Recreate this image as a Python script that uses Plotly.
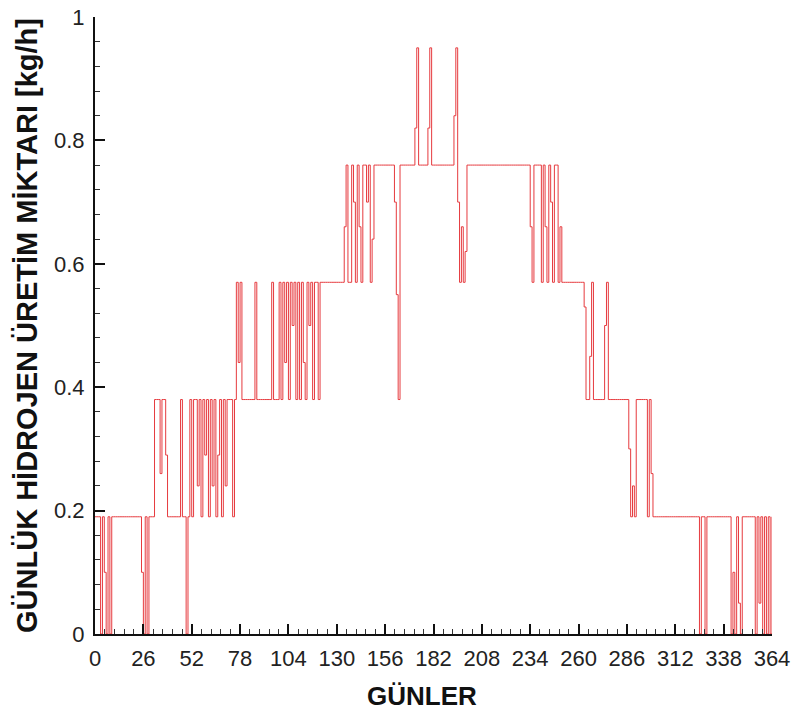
import plotly.graph_objects as go

# Daily hydrogen production over one year (kg/h), one value per day
days = list(range(365))
production = [
    0.19, 0.19, 0.19, 0.00, 0.19, 0.10, 0.00, 0.19, 0.00, 0.19,  # 0-9
    0.19, 0.19, 0.19, 0.19, 0.19, 0.19, 0.19, 0.19, 0.19, 0.19,  # 10-19
    0.19, 0.19, 0.19, 0.19, 0.19, 0.10, 0.00, 0.19, 0.00, 0.19,  # 20-29
    0.19, 0.19, 0.38, 0.38, 0.38, 0.26, 0.38, 0.38, 0.29, 0.19,  # 30-39
    0.19, 0.19, 0.19, 0.19, 0.19, 0.19, 0.38, 0.19, 0.19, 0.00,  # 40-49
    0.19, 0.38, 0.19, 0.38, 0.38, 0.24, 0.38, 0.19, 0.38, 0.29,  # 50-59
    0.38, 0.19, 0.38, 0.24, 0.38, 0.19, 0.29, 0.38, 0.19, 0.38,  # 60-69
    0.24, 0.38, 0.38, 0.38, 0.19, 0.38, 0.57, 0.44, 0.57, 0.38,  # 70-79
    0.38, 0.38, 0.38, 0.38, 0.38, 0.38, 0.57, 0.38, 0.38, 0.38,  # 80-89
    0.38, 0.38, 0.38, 0.38, 0.38, 0.57, 0.38, 0.38, 0.38, 0.57,  # 90-99
    0.38, 0.57, 0.44, 0.57, 0.38, 0.57, 0.50, 0.57, 0.38, 0.57,  # 100-109
    0.38, 0.57, 0.44, 0.38, 0.57, 0.50, 0.57, 0.38, 0.57, 0.57,  # 110-119
    0.38, 0.57, 0.57, 0.57, 0.57, 0.57, 0.57, 0.57, 0.57, 0.57,  # 120-129
    0.57, 0.57, 0.57, 0.57, 0.66, 0.76, 0.57, 0.57, 0.76, 0.70,  # 130-139
    0.57, 0.76, 0.66, 0.57, 0.76, 0.76, 0.70, 0.76, 0.57, 0.64,  # 140-149
    0.76, 0.76, 0.76, 0.76, 0.76, 0.76, 0.76, 0.76, 0.76, 0.76,  # 150-159
    0.76, 0.70, 0.55, 0.38, 0.76, 0.76, 0.76, 0.76, 0.76, 0.76,  # 160-169
    0.76, 0.76, 0.82, 0.95, 0.76, 0.76, 0.76, 0.76, 0.76, 0.82,  # 170-179
    0.95, 0.76, 0.76, 0.76, 0.76, 0.76, 0.76, 0.76, 0.76, 0.76,  # 180-189
    0.76, 0.76, 0.76, 0.84, 0.95, 0.70, 0.57, 0.66, 0.57, 0.62,  # 190-199
    0.76, 0.76, 0.76, 0.76, 0.76, 0.76, 0.76, 0.76, 0.76, 0.76,  # 200-209
    0.76, 0.76, 0.76, 0.76, 0.76, 0.76, 0.76, 0.76, 0.76, 0.76,  # 210-219
    0.76, 0.76, 0.76, 0.76, 0.76, 0.76, 0.76, 0.76, 0.76, 0.76,  # 220-229
    0.76, 0.76, 0.76, 0.76, 0.66, 0.57, 0.76, 0.76, 0.76, 0.76,  # 230-239
    0.57, 0.76, 0.66, 0.57, 0.76, 0.70, 0.57, 0.76, 0.76, 0.57,  # 240-249
    0.66, 0.57, 0.57, 0.57, 0.57, 0.57, 0.57, 0.57, 0.57, 0.57,  # 250-259
    0.57, 0.57, 0.57, 0.53, 0.38, 0.38, 0.45, 0.57, 0.38, 0.38,  # 260-269
    0.38, 0.38, 0.38, 0.38, 0.50, 0.57, 0.38, 0.38, 0.38, 0.38,  # 270-279
    0.38, 0.38, 0.38, 0.38, 0.38, 0.38, 0.38, 0.30, 0.19, 0.24,  # 280-289
    0.19, 0.38, 0.38, 0.38, 0.38, 0.38, 0.38, 0.19, 0.38, 0.26,  # 290-299
    0.19, 0.19, 0.19, 0.19, 0.19, 0.19, 0.19, 0.19, 0.19, 0.19,  # 300-309
    0.19, 0.19, 0.19, 0.19, 0.19, 0.19, 0.19, 0.19, 0.19, 0.19,  # 310-319
    0.19, 0.19, 0.19, 0.19, 0.19, 0.00, 0.19, 0.19, 0.00, 0.19,  # 320-329
    0.19, 0.19, 0.19, 0.19, 0.19, 0.19, 0.19, 0.19, 0.19, 0.19,  # 330-339
    0.19, 0.19, 0.00, 0.10, 0.00, 0.19, 0.05, 0.00, 0.19, 0.19,  # 340-349
    0.19, 0.19, 0.19, 0.19, 0.19, 0.00, 0.19, 0.05, 0.19, 0.00,  # 350-359
    0.19, 0.00, 0.19, 0.00, 0.19,                                # 360-364
]

x_ticks = [0, 26, 52, 78, 104, 130, 156, 182, 208, 234, 260, 286, 312, 338, 364]
y_ticks = [0, 0.2, 0.4, 0.6, 0.8, 1]
y_tick_text = ["0", "0.2", "0.4", "0.6", "0.8", "1"]

x_title = "GÜNLER"
y_title = "GÜNLÜK HİDROJEN ÜRETİM MİKTARI [kg/h]"

font_family = "Liberation Sans, Arial, sans-serif"

fig = go.Figure(
    go.Scatter(
        x=days,
        y=production,
        mode="lines",
        line=dict(color="#e63a3e", width=1, shape="hv"),
        showlegend=False,
    )
)

axis_common = dict(
    showline=True,
    linecolor="#111111",
    linewidth=2,
    showgrid=False,
    zeroline=False,
    mirror=False,
    ticks="inside",
    ticklen=10,
    tickwidth=2,
    tickcolor="#111111",
    tickfont=dict(family=font_family, size=22, color="#222222"),
)

fig.update_xaxes(
    range=[0, 364],
    tickmode="array",
    tickvals=x_ticks,
    ticktext=[str(v) for v in x_ticks],
    minor=dict(ticks="inside", ticklen=5, tickwidth=1, tickcolor="#333333",
               tick0=0, dtick=5.2),
    ticklabelstandoff=4,
    **axis_common,
)

fig.update_yaxes(
    range=[0, 1],
    tickmode="array",
    tickvals=y_ticks,
    ticktext=y_tick_text,
    minor=dict(ticks="inside", ticklen=5, tickwidth=1, tickcolor="#333333",
               tick0=0, dtick=0.04),
    title=dict(text=f"<b>{y_title}</b>",
               font=dict(family=font_family, size=29, color="#111111"),
               standoff=8),
    ticklabelstandoff=4,
    **axis_common,
)

# x-axis title placed as a paper annotation below the tick labels
fig.add_annotation(
    text=f"<b>{x_title}</b>",
    xref="paper", yref="paper",
    x=0.483, y=-0.073,
    xanchor="center", yanchor="top",
    showarrow=False,
    font=dict(family=font_family, size=26, color="#111111"),
)

fig.update_layout(
    width=794,
    height=711,
    margin=dict(l=95, r=22, t=17, b=77, autoexpand=False),
    paper_bgcolor="white",
    plot_bgcolor="white",
)

fig.write_html("out.html")
